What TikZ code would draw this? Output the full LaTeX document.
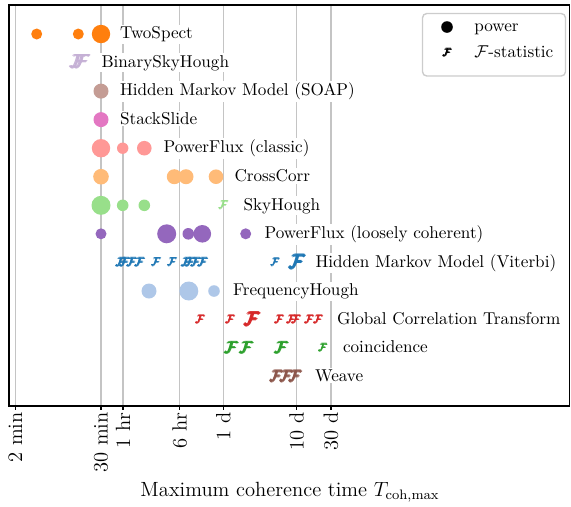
\documentclass[tikz,border=0pt]{standalone}
\definecolor{cTwo}{HTML}{FF7F0E}
\definecolor{cBin}{HTML}{C5B0D5}
\definecolor{cSoap}{HTML}{C49C94}
\definecolor{cStack}{HTML}{E377C2}
\definecolor{cPFc}{HTML}{FF9896}
\definecolor{cCC}{HTML}{FFBB78}
\definecolor{cSky}{HTML}{98DF8A}
\definecolor{cPFl}{HTML}{9467BD}
\definecolor{cVit}{HTML}{1F77B4}
\definecolor{cFH}{HTML}{AEC7E8}
\definecolor{cGCT}{HTML}{D62728}
\definecolor{cCoin}{HTML}{2CA02C}
\definecolor{cWeave}{HTML}{8C564B}
\definecolor{gridgray}{HTML}{C4C4C4}
\definecolor{leggray}{HTML}{CCCCCC}
\newcommand{\bF}{\ooalign{$\mathcal{F}$\cr\kern0.55pt$\mathcal{F}$\cr\kern1.1pt$\mathcal{F}$\cr\raisebox{0.5pt}{\kern0.55pt$\mathcal{F}$}\cr\raisebox{-0.5pt}{\kern0.55pt$\mathcal{F}$}\cr}}
\newcommand{\Fmark}[5]{\node[fmark, text=#2, scale=#5] (#1) at (#3,#4) {\bF};}
\begin{document}
\begin{tikzpicture}[x=0.5833pt,y=-0.5833pt,
  gridline/.style={draw=gridgray, line width=0.6pt},
  frameline/.style={draw=black, line width=0.8pt},
  tickmark/.style={draw=black, line width=0.8pt},
  fmark/.style={inner sep=0pt, font=\normalsize},
  lab/.style={anchor=base west, fill=white, inner sep=1pt},
  ticklab/.style={rotate=90, anchor=east, inner sep=0pt, font=\large},
  legbox/.style={draw=leggray, fill=white, rounded corners=2.5pt, line width=0.8pt}]
\useasboundingbox (0,0) rectangle (571,506);
% grid lines
\foreach \g in {15.3,101,123,179.7,223.3,296.7,331}
  \draw[gridline] (\g,5) -- (\g,406);
% frame and ticks
\draw[frameline] (9,5) rectangle (569.5,406);
\foreach \g in {15.3,101,123,179.7,223.3,296.7,331}
  \draw[tickmark] (\g,406) -- (\g,410);
% tick labels
\node[ticklab] (t1) at (15.3,412) {2 min};
\node[ticklab] (t2) at (101,412) {30 min};
\node[ticklab] (t3) at (123,412) {1 hr};
\node[ticklab] (t4) at (179.7,412) {6 hr};
\node[ticklab] (t5) at (223.3,412) {1 d};
\node[ticklab] (t6) at (296.7,412) {10 d};
\node[ticklab] (t7) at (331,412) {30 d};
\node[anchor=base, font=\large] (xlab) at (290,496) {Maximum coherence time $T_{\mathrm{coh,max}}$};
% TwoSpect
\fill[cTwo] (36.7,34) circle[radius=5.5];
\fill[cTwo] (78.3,34) circle[radius=5.5];
\fill[cTwo] (101,34) circle[radius=9.2];
\node[lab] (l0) at (118,38.7) {TwoSpect};
% BinarySkyHough
\Fmark{b1}{cBin}{77.5}{62}{1.1}
\Fmark{b2}{cBin}{81.5}{62}{1.1}
\node[lab] (l1) at (99.5,67.2) {BinarySkyHough};
% HMM SOAP
\fill[cSoap] (101,91.1) circle[radius=7.5];
\node[lab] (l2) at (118,95.8) {Hidden Markov Model (SOAP)};
% StackSlide
\fill[cStack] (101,119.6) circle[radius=7.5];
\node[lab] (l3) at (118,124.3) {StackSlide};
% PowerFlux classic
\fill[cPFc] (101,148.2) circle[radius=9.2];
\fill[cPFc] (122.7,148.2) circle[radius=5.7];
\fill[cPFc] (144.3,148.2) circle[radius=7.3];
\node[lab] (l4) at (161.5,152.9) {PowerFlux (classic)};
% CrossCorr
\fill[cCC] (101,176.7) circle[radius=7.8];
\fill[cCC] (174.3,176.7) circle[radius=7.5];
\fill[cCC] (186,176.7) circle[radius=7.5];
\fill[cCC] (216,176.7) circle[radius=7.3];
\node[lab] (l5) at (232.5,181.4) {CrossCorr};
% SkyHough
\fill[cSky] (101,205.3) circle[radius=9.5];
\fill[cSky] (122.7,205.3) circle[radius=5.8];
\fill[cSky] (144.3,205.3) circle[radius=5.8];
\Fmark{s1}{cSky}{223.3}{205.3}{0.65}
\node[lab] (l6) at (241.5,210) {SkyHough};
% PowerFlux loosely coherent
\fill[cPFl] (101,233.8) circle[radius=5.5];
\fill[cPFl] (166.7,233.8) circle[radius=9.5];
\fill[cPFl] (188.3,233.8) circle[radius=5.8];
\fill[cPFl] (202.3,233.8) circle[radius=8.8];
\fill[cPFl] (245.7,233.8) circle[radius=5.5];
\node[lab] (l7) at (262.5,238.5) {PowerFlux (loosely coherent)};
% HMM Viterbi
\Fmark{v1}{cVit}{120.5}{262.4}{0.7}
\Fmark{v2}{cVit}{124.5}{262.4}{0.7}
\Fmark{v3}{cVit}{131.5}{262.4}{0.7}
\Fmark{v4}{cVit}{139.5}{262.4}{0.7}
\Fmark{v5}{cVit}{156}{262.4}{0.65}
\Fmark{v6}{cVit}{172}{262.4}{0.65}
\Fmark{v7}{cVit}{186}{262.4}{0.7}
\Fmark{v8}{cVit}{190}{262.4}{0.7}
\Fmark{v9}{cVit}{195.5}{262.4}{0.7}
\Fmark{v10}{cVit}{202.5}{262.4}{0.7}
\Fmark{v11}{cVit}{275}{262.4}{0.62}
\Fmark{v12}{cVit}{296.7}{262.4}{1.15}
\node[lab] (l8) at (313.5,267.1) {Hidden Markov Model (Viterbi)};
% FrequencyHough
\fill[cFH] (149,291) circle[radius=7.5];
\fill[cFH] (188.8,291) circle[radius=9.5];
\fill[cFH] (214,291) circle[radius=5.8];
\node[lab] (l9) at (231,295.7) {FrequencyHough};
% GCT
\Fmark{g1}{cGCT}{200}{319.5}{0.65}
\Fmark{g2}{cGCT}{230}{319.5}{0.65}
\Fmark{g3}{cGCT}{251.7}{319.5}{1.1}
\Fmark{g4}{cGCT}{279}{319.5}{0.65}
\Fmark{g5}{cGCT}{291}{319.5}{0.65}
\Fmark{g6}{cGCT}{296}{319.5}{0.65}
\Fmark{g7}{cGCT}{309}{319.5}{0.65}
\Fmark{g8}{cGCT}{318}{319.5}{0.65}
\node[lab] (l10) at (335,324.2) {Global Correlation Transform};
% coincidence
\Fmark{c1}{cCoin}{231}{348}{0.95}
\Fmark{c2}{cCoin}{246}{348}{0.95}
\Fmark{c3}{cCoin}{281}{348}{0.95}
\Fmark{c4}{cCoin}{322.7}{348}{0.62}
\node[lab] (l11) at (341,352.7) {coincidence};
% Weave
\Fmark{w1}{cWeave}{276}{376.6}{0.9}
\Fmark{w2}{cWeave}{286}{376.6}{0.9}
\Fmark{w3}{cWeave}{295}{376.6}{0.9}
\node[lab] (l12) at (313,381.3) {Weave};
% legend
\draw[legbox] (422.5,13.5) rectangle (565.5,76);
\fill[black] (447,27) circle[radius=5.8];
\Fmark{lf}{black}{447}{53}{0.62}
\node[anchor=base west, inner sep=0pt] (lp) at (474,31.5) {power};
\node[anchor=base west, inner sep=0pt] (lfs) at (474,57.7) {$\mathcal{F}$-statistic};
\end{tikzpicture}
\end{document}
